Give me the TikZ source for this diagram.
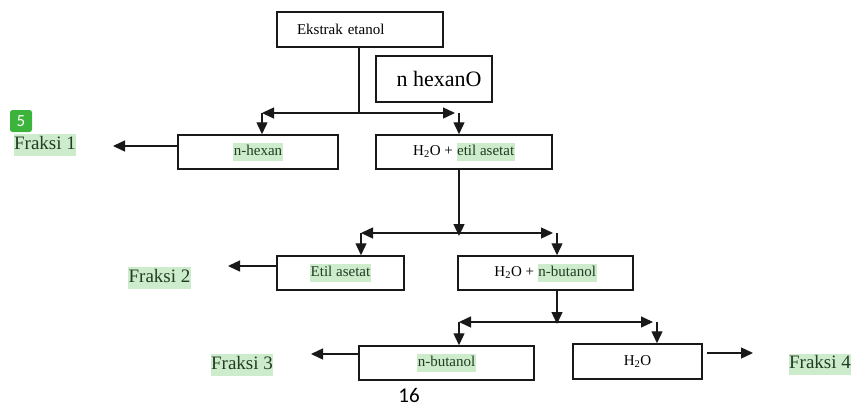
\documentclass[tikz,border=0pt]{standalone}
\usepackage{fontspec}
\setmainfont{Liberation Serif}
\newfontfamily\carlito{Carlito}
\usetikzlibrary{arrows.meta}
\definecolor{hlg}{RGB}{204,236,204}
\definecolor{hltext}{RGB}{35,60,35}
\definecolor{badgegreen}{RGB}{60,180,60}
\definecolor{ln}{RGB}{25,25,25}
\newcommand\hlt[1]{{\setlength\fboxsep{0.6pt}\colorbox{hlg}{\strut\color{hltext}#1}}}
\newcommand\bxfont{\fontsize{15}{16}\selectfont}
\newcommand\fkfont{\fontsize{19}{20}\selectfont}
\begin{document}
\begin{tikzpicture}[x=1pt,y=-1pt,
  box/.style={draw=ln, line width=1.5pt, inner sep=0pt, font=\bxfont, minimum height=34pt},
  wire/.style={draw=ln, line width=1.4pt},
  arr/.style={draw=ln, line width=1.4pt, -{Triangle[length=12pt,width=11pt]}},
  frak/.style={inner sep=0pt, font=\fkfont}]
\useasboundingbox (0,0) rectangle (852,407);

% boxes
\node[box, minimum width=166pt, minimum height=35pt, text width=126pt, inner xsep=20pt, align=left] (ekstrak) at (360,29.5) {Ekstrak etanol};
\node[box, minimum width=116pt, minimum height=46pt, font=\fontsize{22}{24}\selectfont] (hexano) at (434,79) {\hspace*{10pt}n hexanO};
\node[box, minimum width=160pt] (nhexan) at (258,152) {\hlt{n-hexan}};
\node[box, minimum width=176pt] (h2oetil) at (464,152) {H\textsubscript{2}O + \hlt{etil asetat}};
\node[box, minimum width=127pt] (etilasetat) at (340.5,273) {\hlt{Etil asetat}};
\node[box, minimum width=175pt] (h2obut) at (545.5,273) {H\textsubscript{2}O + \hlt{n-butanol}};
\node[box, minimum width=175pt] (nbutanol) at (446.5,363) {\hlt{n-butanol}};
\node[box, minimum width=129pt, minimum height=35pt] (h2o) at (637.5,361.5) {H\textsubscript{2}O};

% fraksi labels
\node[frak] (f1) at (45,145) {\hlt{Fraksi 1}};
\node[frak] (f2) at (159.5,278) {\hlt{Fraksi 2}};
\node[frak] (f3) at (242,365) {\hlt{Fraksi 3}};
\node[frak] (f4) at (820,364.5) {\hlt{Fraksi 4}};

% badge and page number
\node[fill=badgegreen, rounded corners=2.5pt, minimum width=22pt, minimum height=22pt, inner sep=0pt, text=white, font=\carlito\fontsize{17}{17}\selectfont] (badge) at (21,121) {5};
\node[inner sep=0pt, font=\carlito\fontsize{21}{21}\selectfont] (pg) at (409,395) {16};

% level 1
\coordinate (j1) at (359,113);
\coordinate (t1L) at (262,113);
\coordinate (t1R) at (455,113);
\coordinate (d1R) at (459,113);
\draw[wire] (ekstrak.south -| j1) -- (j1);
\draw[arr] (j1) -- (t1L);
\draw[arr] (j1) -- (t1R);
\draw[arr] (t1L) -- (t1L |- nhexan.north);
\draw[arr] (d1R) -- (d1R |- h2oetil.north);
\coordinate (e1) at (113,146);
\draw[arr] (nhexan.west |- e1) -- (e1);

% level 2
\coordinate (j2) at (459,233);
\coordinate (s2) at (459,169);
\coordinate (t2L) at (361,233);
\coordinate (t2R) at (553,233);
\coordinate (d2R) at (557,233);
\draw[arr] (s2) -- (459,236);
\draw[arr] (j2) -- (t2L);
\draw[arr] (j2) -- (t2R);
\draw[arr] (t2L) -- (t2L |- etilasetat.north);
\draw[arr] (d2R) -- (d2R |- h2obut.north);
\coordinate (e2) at (228,266);
\draw[arr] (etilasetat.west |- e2) -- (e2);

% level 3
\coordinate (j3) at (557,322);
\coordinate (s3) at (557,290);
\coordinate (t3L) at (459,322);
\coordinate (t3R) at (653,322);
\coordinate (d3R) at (657,322);
\draw[arr] (s3) -- (557,324);
\draw[arr] (j3) -- (t3L);
\draw[arr] (j3) -- (t3R);
\draw[arr] (t3L) -- (t3L |- nbutanol.north);
\draw[arr] (d3R) -- (d3R |- h2o.north);
\coordinate (e3) at (311,354);
\draw[arr] (nbutanol.west |- e3) -- (e3);
\coordinate (e4) at (753,353);
\draw[arr, shorten <=4pt] (h2o.east |- e4) -- (e4);
\end{tikzpicture}
\end{document}
